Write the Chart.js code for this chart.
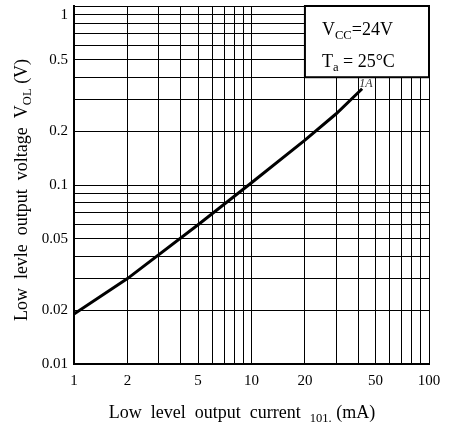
<!DOCTYPE html>
<html>
<head>
<meta charset="utf-8">
<script src="https://cdn.jsdelivr.net/npm/chart.js@4.4.1/dist/chart.umd.min.js"></script>
<style>
  html, body { margin: 0; background: #fff; }
  #wrap { width: 450px; height: 422px; }
</style>
</head>
<body>
<div id="wrap"><canvas id="c" width="450" height="422"></canvas></div>
<script>
// curve (log-log)
const currentMA = [1, 2, 5, 10, 20, 30, 42];
const voltageV  = [0.019, 0.030, 0.060, 0.103, 0.178, 0.25, 0.345];

// grid lines and labelled ticks
const xGrid = [1, 2, 3, 4, 5, 6, 7, 8, 9, 10, 20, 30, 40, 50, 60, 70, 80, 90, 100];
const yGrid = [0.01, 0.02, 0.03, 0.04, 0.05, 0.06, 0.07, 0.08, 0.09,
               0.1, 0.2, 0.3, 0.4, 0.5, 0.6, 0.7, 0.8, 0.9, 1];
const xLabels = [1, 2, 5, 10, 20, 50, 100];
const yLabels = [0.01, 0.02, 0.05, 0.1, 0.2, 0.5, 1];

const SERIF = '"Liberation Serif", "DejaVu Serif", serif';

// draws text with a subscript part: parts = [[text, isSub], ...]
function drawParts(ctx, parts, x, y, size) {
  let cx = x;
  parts.forEach(([t, sub]) => {
    ctx.font = (sub ? size * 0.7 : size) + "px " + SERIF;
    ctx.fillText(t, cx, sub ? y + size * 0.2 : y);
    cx += ctx.measureText(t).width;
  });
}
function partsWidth(ctx, parts, size) {
  return parts.reduce((w, [t, sub]) => {
    ctx.font = (sub ? size * 0.7 : size) + "px " + SERIF;
    return w + ctx.measureText(t).width;
  }, 0);
}

const annotations = {
  id: "annotations",
  afterDraw(chart) {
    const { ctx, scales: { x, y } } = chart;
    ctx.save();
    ctx.textBaseline = "alphabetic";

    // condition box, top right
    const bx0 = x.getPixelForValue(20), bx1 = x.getPixelForValue(100);
    const by0 = y.getPixelForValue(1), by1 = y.getPixelForValue(0.4);
    ctx.fillStyle = "#fff";
    ctx.fillRect(bx0, by0, bx1 - bx0, by1 - by0);
    ctx.strokeStyle = "#000";
    ctx.lineWidth = 2;
    ctx.strokeRect(bx0, by0, bx1 - bx0, by1 - by0);
    ctx.fillStyle = "#000";
    drawParts(ctx, [["V", false], ["CC", true], ["=24V", false]], bx0 + 17, by0 + 29, 18);
    drawParts(ctx, [["T", false], ["a", true], [" = 25°C", false]], bx0 + 17, by0 + 61, 18);

    // small curve label
    ctx.font = "italic 12px " + SERIF;
    ctx.fillStyle = "#333";
    ctx.fillText("1A", x.getPixelForValue(42) - 3, y.getPixelForValue(0.345) - 2);

    // y axis title
    ctx.fillStyle = "#000";
    const yParts = [["Low  levle  output  voltage  V", false], ["OL", true], [" (V)", false]];
    const yw = partsWidth(ctx, yParts, 18);
    ctx.translate(27, 190);
    ctx.rotate(-Math.PI / 2);
    drawParts(ctx, yParts, -yw / 2, 0, 18);
    ctx.setTransform(1, 0, 0, 1, 0, 0);

    // x axis title
    const xParts = [["Low  level  output  current  ", false], ["101.", true], [" (mA)", false]];
    const xw = partsWidth(ctx, xParts, 18);
    drawParts(ctx, xParts, 242 - xw / 2, 418, 18);
    ctx.restore();
  }
};

new Chart(document.getElementById("c"), {
  type: "line",
  data: {
    datasets: [{
      data: currentMA.map((v, i) => ({ x: v, y: voltageV[i] })),
      borderColor: "#000",
      borderWidth: 3,
      pointRadius: 0,
      tension: 0,
      fill: false
    }]
  },
  options: {
    responsive: false,
    devicePixelRatio: 1,
    animation: false,
    layout: { padding: { top: 6, right: 21, left: 0, bottom: 0 } },
    plugins: { legend: { display: false }, tooltip: { enabled: false } },
    scales: {
      x: {
        type: "logarithmic",
        min: 1, max: 100,
        afterFit: s => { s.height = 58; s.paddingLeft = 0; s.paddingRight = 0; },
        afterBuildTicks: s => { s.ticks = xGrid.map(v => ({ value: v })); },
        ticks: {
          autoSkip: false, maxRotation: 0, padding: 8,
          color: "#000", font: { family: SERIF, size: 15 },
          callback: v => xLabels.includes(v) ? String(v) : ""
        },
        grid: { color: "#000", lineWidth: 1, drawTicks: false },
        border: { color: "#000", width: 2 }
      },
      y: {
        type: "logarithmic",
        min: 0.01, max: 1,
        afterFit: s => { s.width = 74; s.paddingTop = 0; s.paddingBottom = 0; },
        afterBuildTicks: s => { s.ticks = yGrid.map(v => ({ value: v })); },
        ticks: {
          autoSkip: false, padding: 6,
          color: "#000", font: { family: SERIF, size: 15 },
          // the top "1" sits a little below its line in the reference
          callback: v => v === 1 ? ["", "1"] : (yLabels.includes(v) ? String(v) : "")
        },
        grid: { color: "#000", lineWidth: 1, drawTicks: false },
        border: { color: "#000", width: 2 }
      }
    }
  },
  plugins: [annotations]
});
</script>
</body>
</html>
